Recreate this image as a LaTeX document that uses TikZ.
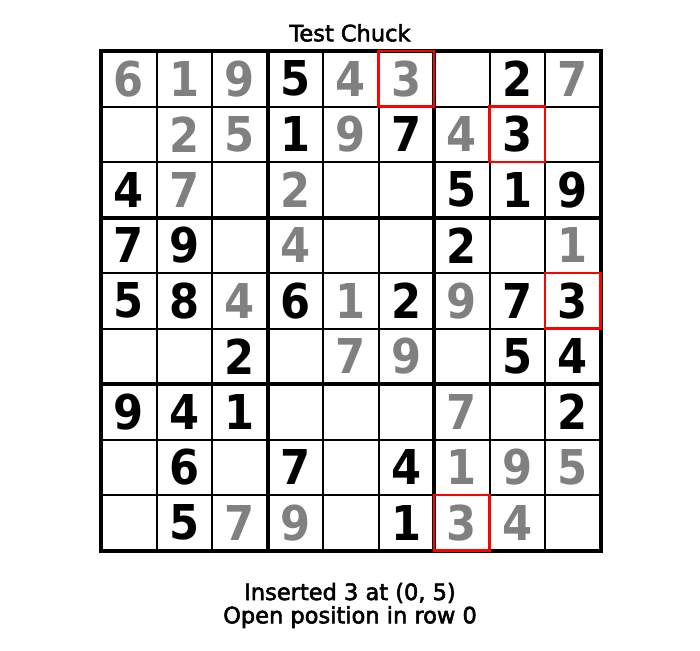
\documentclass[tikz,border=0pt]{standalone}
\usepackage{fontspec}
\setmainfont{DejaVu Sans}
\newfontfamily\digitfont{DejaVu Sans Condensed}
\newcommand{\heavytext}[1]{\special{pdf:literal direct 2 Tr 0.55 w}#1\special{pdf:literal direct 0 Tr}}
\usetikzlibrary{calc}
\definecolor{givengray}{RGB}{128,128,128}
\definecolor{markred}{RGB}{255,0,0}

\begin{document}
\begin{tikzpicture}[x=1pt, y=-1pt,
    thinline/.style={line width=2pt},
    thickline/.style={line width=4pt, line cap=rect},
    greydigit/.style={font=\digitfont\bfseries\fontsize{48}{56}\selectfont, text=givengray, inner sep=0pt},
    blackdigit/.style={font=\digitfont\bfseries\fontsize{48}{56}\selectfont, text=black, inner sep=0pt},
    redbox/.style={draw=markred, line width=2.5pt},
    caption/.style={font=\fontsize{22.5}{26}\selectfont, anchor=base, inner sep=0pt}]
    \useasboundingbox (0,0) rectangle (700,650);

    \coordinate (O) at (101, 51);
    \coordinate (E) at (600.5, 550.5);

    \foreach \i in {1,2,4,5,7,8} {
        \draw[thinline] ($(O)+({55.5*\i},0)$) -- ($(O)+({55.5*\i},499.5)$);
        \draw[thinline] ($(O)+(0,{55.5*\i})$) -- ($(O)+(499.5,{55.5*\i})$);
    }
    \foreach \i in {3,6} {
        \draw[thickline] ($(O)+({55.5*\i},0)$) -- ($(O)+({55.5*\i},499.5)$);
        \draw[thickline] ($(O)+(0,{55.5*\i})$) -- ($(O)+(499.5,{55.5*\i})$);
    }
    \draw[thickline] (O) rectangle (E);

    \foreach \r/\c/\d/\s in {
        0/0/6/greydigit, 0/1/1/greydigit, 0/2/9/greydigit, 0/3/5/blackdigit, 0/4/4/greydigit, 0/5/3/greydigit, 0/7/2/blackdigit, 0/8/7/greydigit,
        1/1/2/greydigit, 1/2/5/greydigit, 1/3/1/blackdigit, 1/4/9/greydigit, 1/5/7/blackdigit, 1/6/4/greydigit, 1/7/3/blackdigit,
        2/0/4/blackdigit, 2/1/7/greydigit, 2/3/2/greydigit, 2/6/5/blackdigit, 2/7/1/blackdigit, 2/8/9/blackdigit,
        3/0/7/blackdigit, 3/1/9/blackdigit, 3/3/4/greydigit, 3/6/2/blackdigit, 3/8/1/greydigit,
        4/0/5/blackdigit, 4/1/8/blackdigit, 4/2/4/greydigit, 4/3/6/blackdigit, 4/4/1/greydigit, 4/5/2/blackdigit, 4/6/9/greydigit, 4/7/7/blackdigit, 4/8/3/blackdigit,
        5/2/2/blackdigit, 5/4/7/greydigit, 5/5/9/greydigit, 5/7/5/blackdigit, 5/8/4/blackdigit,
        6/0/9/blackdigit, 6/1/4/blackdigit, 6/2/1/blackdigit, 6/6/7/greydigit, 6/8/2/blackdigit,
        7/1/6/blackdigit, 7/3/7/blackdigit, 7/5/4/blackdigit, 7/6/1/greydigit, 7/7/9/greydigit, 7/8/5/greydigit,
        8/1/5/blackdigit, 8/2/7/greydigit, 8/3/9/greydigit, 8/5/1/blackdigit, 8/6/3/greydigit, 8/7/4/greydigit}
        \node[\s] (cell-\r-\c) at ($(O)+({55.5*(\c+0.5)},{55.5*(\r+0.5)})$) {\d};

    \foreach \r/\c in {0/5, 1/7, 4/8, 8/6}
        \draw[redbox] ($(O)+({55.5*\c},{55.5*\r})$) rectangle +(55.5,55.5);

    \node[caption] (title) at (350, 41.3) {\heavytext{Test Chuck}};
    \node[caption] (inserted) at (350, 600) {\heavytext{Inserted 3 at (0, 5)}};
    \node[caption] (openpos) at (350, 623.3) {\heavytext{Open position in row 0}};
\end{tikzpicture}
\end{document}
